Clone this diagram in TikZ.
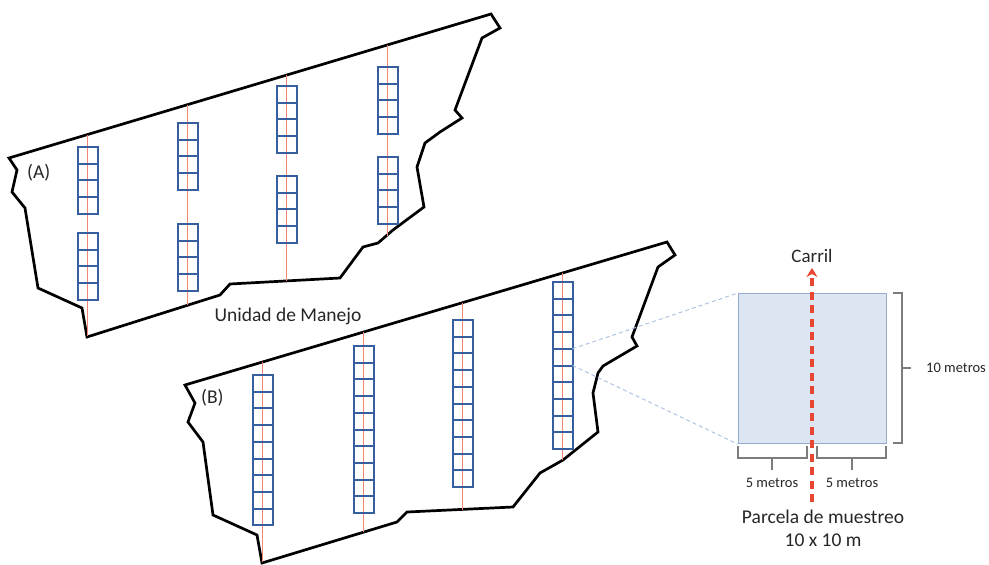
\documentclass[tikz,border=0pt]{standalone}
\usepackage{fontspec}
\setmainfont{Carlito}
\usetikzlibrary{arrows.meta}
\definecolor{boxblue}{RGB}{55,95,160}
\definecolor{laneline}{RGB}{240,135,115}
\definecolor{plotfill}{RGB}{220,230,243}
\definecolor{plotedge}{RGB}{150,170,205}
\definecolor{linkblue}{RGB}{175,195,225}
\definecolor{carrilred}{RGB}{230,70,50}
\definecolor{brackgray}{RGB}{125,125,125}
\tikzset{
  outline/.style={line width=2.7pt, line join=miter, black},
  lane/.style={laneline, line width=1.5pt},
  cellbox/.style={draw=boxblue, line width=2pt, minimum width=20pt, minimum height=16.7pt, inner sep=0pt, outer sep=0pt},
  bracket/.style={brackgray, line width=1.1pt},
  link/.style={linkblue, line width=1pt, dash pattern=on 4pt off 3pt},
  lbl/.style={font=\fontsize{19.5}{21}\selectfont, text=black!85, inner sep=1pt},
  small/.style={font=\fontsize{14.5}{16}\selectfont, text=black!85, inner sep=1pt},
}
\begin{document}
\begin{tikzpicture}[x=1pt,y=-1pt]
\useasboundingbox (0,0) rectangle (989,565);

% ---------- Management unit A ----------
\draw[outline] (9,158) -- (491,14) -- (500,28) -- (482,38) -- (455,110) -- (462,118) -- (440,132) -- (425,143) -- (417,167) -- (424,207) -- (393,230) -- (378,243) -- (363,247) -- (340,278) -- (230,284) -- (220,295) -- (87,337) -- (82,308) -- (38,288) -- (25,208) -- (12,192) -- (17,170) -- cycle;
% lanes A
\draw[lane] (87.5,135) coordinate (la1t) -- (87.5,336) coordinate (la1b);
\draw[lane] (187.5,105) coordinate (la2t) -- (187.5,305) coordinate (la2b);
\draw[lane] (286.5,75) coordinate (la3t) -- (286.5,281) coordinate (la3b);
\draw[lane] (387.5,45) coordinate (la4t) -- (387.5,236) coordinate (la4b);
\node[lbl, anchor=west] (labA) at (26,173) {(A)};

% ---------- Management unit B ----------
\draw[outline] (185,385) -- (667,242) -- (675,255) -- (658,267) -- (632,337) -- (637,346) -- (603,366) -- (598,373) -- (593,393) -- (598,432) -- (563,460) -- (540,473) -- (513,507) -- (407,512) -- (397,522) -- (262,563) -- (257,535) -- (213,515) -- (203,442) -- (188,422) -- (195,403) -- cycle;
% lanes B
\draw[lane] (262.5,362) coordinate (lb1t) -- (262.5,562) coordinate (lb1b);
\draw[lane] (363.5,332) coordinate (lb2t) -- (363.5,532) coordinate (lb2b);
\draw[lane] (462.5,303) coordinate (lb3t) -- (462.5,510) coordinate (lb3b);
\draw[lane] (562.5,273) coordinate (lb4t) -- (562.5,460) coordinate (lb4b);
\node[lbl, anchor=west] (labB) at (200,398) {(B)};

% ---------- sampling cells ----------
\foreach \cx/\ty/\n/\nm in {87/147/4/a1, 87/233/4/a2, 187/123/4/a3, 187/224/4/a4,
                            286/86/4/a5, 286/176/4/a6, 387/67/4/a7, 387/157/4/a8,
                            262/375/9/b1, 363/346/10/b2, 462/320/10/b3, 562/282/10/b4}{
  \foreach \k in {1,...,\n}{
    \node[cellbox, anchor=north] (\nm-\k) at (\cx+0.5,{\ty+(\k-1)*16.7}) {};
  }
}

\node[lbl] (unidad) at (288,316) {Unidad de Manejo};

% ---------- sampling plot detail ----------
\node[draw=plotedge, fill=plotfill, line width=1.2pt, minimum width=148pt, minimum height=150pt, inner sep=0pt, anchor=north west] (plot) at (738,293) {};

\draw[link] (b4-5.north east) -- (plot.north west);
\draw[link] (b4-5.south east) -- (plot.south west);

% carril
\coordinate (cbot) at (812,502);
\coordinate (ctop) at (812,268);
\draw[carrilred, line width=3.2pt, dash pattern=on 8pt off 5.5pt, -{Stealth[length=9pt,width=11pt,inset=3pt]}] (cbot) -- (ctop);
\node[lbl, font=\fontsize{19}{21}\selectfont] (carril) at (812,256) {Carril};

% 10 metros bracket
\draw[bracket] (893,293) -- (902,293) -- (902,443) -- (893,443);
\draw[bracket] (902,368) -- (911,368);
\node[small, anchor=west] (diez) at (925,368) {10 metros};

% 5 metros brackets
\draw[bracket] (738,446) -- (738,458) -- (807,458) -- (807,446);
\draw[bracket] (772,458) -- (772,470);
\draw[bracket] (817,446) -- (817,458) -- (886,458) -- (886,446);
\draw[bracket] (852,458) -- (852,470);
\node[small] (cincoL) at (772,483) {5 metros};
\node[small] (cincoR) at (852,483) {5 metros};

\node[lbl] (parcela) at (823,517) {Parcela de muestreo};
\node[lbl] (dims) at (823,540) {10 x 10 m};
\end{tikzpicture}
\end{document}
